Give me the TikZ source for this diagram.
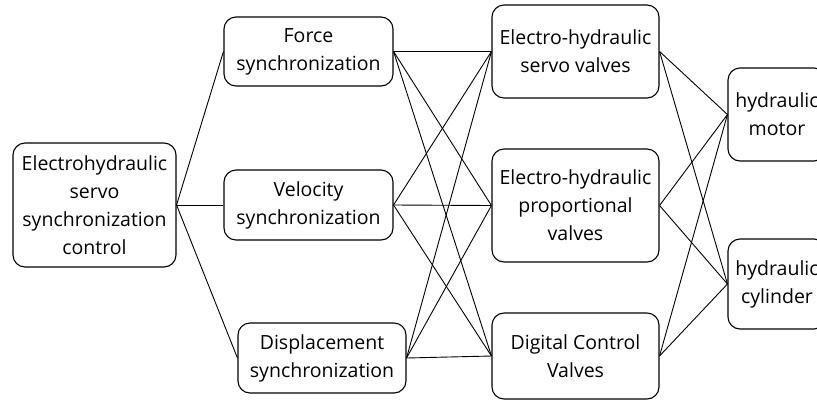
\documentclass[tikz,border=0pt]{standalone}
\usepackage{fontspec}
\setmainfont{Open Sans}
\begin{document}
\begin{tikzpicture}[x=1pt, y=-1pt, main/.style ={draw, rounded corners=12pt, line width=1.1pt, align=center, inner sep=0pt, font=\fontsize{19.5}{28}\selectfont}, link/.style ={line width=0.9pt}]
        \useasboundingbox (0,0) rectangle (817,400);
        \node[main, minimum width=163pt, minimum height=124pt] (ctrl) at (94.5,205) {Electrohydraulic\\servo\\synchronization\\control};
        \node[main, minimum width=169pt, minimum height=69pt] (force) at (308.5,51.5) {Force\\synchronization};
        \node[main, minimum width=169pt, minimum height=70pt] (velo) at (308.5,205) {Velocity\\synchronization};
        \node[main, minimum width=168pt, minimum height=70pt] (disp) at (322,358) {Displacement\\synchronization};
        \node[main, minimum width=167pt, minimum height=93pt] (servo) at (575.5,51.5) {Electro-hydraulic\\servo valves};
        \node[main, minimum width=167pt, minimum height=113pt] (prop) at (575.5,205.5) {Electro-hydraulic\\proportional\\valves};
        \node[main, minimum width=167pt, minimum height=86pt] (digi) at (575.5,356) {Digital Control\\Valves};
        \node[main, minimum width=98pt, minimum height=93pt] (motor) at (777,114.5) {hydraulic\\motor};
        \node[main, minimum width=98pt, minimum height=90pt] (cyl) at (777,284) {hydraulic\\cylinder};
        \draw[link] (ctrl.east) -- (force.west);
        \draw[link] (ctrl.east) -- (velo.west);
        \draw[link] (ctrl.east) -- (disp.west);
        \foreach \a in {force,velo,disp}
            \foreach \b in {servo,prop,digi}
                \draw[link] (\a.east) -- (\b.west);
        \foreach \a in {servo,prop,digi}
            \foreach \b in {motor,cyl}
                \draw[link] (\a.east) -- (\b.west);
    \end{tikzpicture}
\end{document}
